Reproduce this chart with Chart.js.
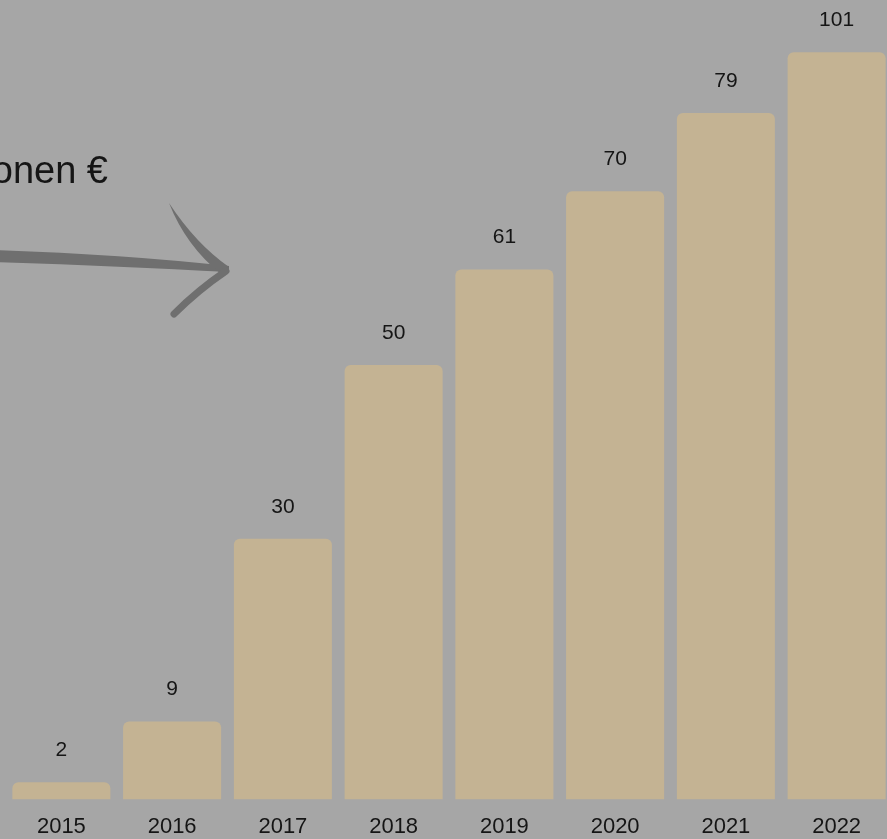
<!DOCTYPE html>
<html>
<head>
<meta charset="utf-8">
<script src="https://cdn.jsdelivr.net/npm/chart.js@4.4.0/dist/chart.umd.min.js"></script>
<style>
  html, body { margin: 0; padding: 0; background: #a6a6a6; overflow: hidden; }
  #wrap { position: absolute; left: 0; top: 0; width: 892px; height: 854px; }
</style>
</head>
<body>
<div id="wrap"><canvas id="chart"></canvas></div>
<script>
// Years along the bottom
const years = ['2015', '2016', '2017', '2018', '2019', '2020', '2021', '2022'];
// Numbers printed above the bars (Millionen €)
const valueLabels = ['2', '9', '30', '50', '61', '70', '79', '101'];
// Bar heights as drawn in the picture (last bar is drawn shorter than its label)
const barHeights = [2, 9, 30, 50, 61, 70, 79, 86];

const barColor = '#c4b393';
const textColor = '#151515';

// value labels above each bar
const valueLabelPlugin = {
  id: 'valueLabels',
  afterDatasetsDraw(chart) {
    const ctx = chart.ctx;
    const meta = chart.getDatasetMeta(0);
    ctx.save();
    ctx.fillStyle = textColor;
    ctx.font = '21px "Liberation Sans", Arial, sans-serif';
    ctx.textAlign = 'center';
    ctx.textBaseline = 'middle';
    meta.data.forEach((bar, i) => {
      ctx.fillText(valueLabels[i], bar.x, bar.y - 32);
    });
    ctx.restore();
  }
};

// cropped caption and hand drawn arrow on the left
const decorPlugin = {
  id: 'decor',
  afterDraw(chart) {
    const ctx = chart.ctx;
    ctx.save();
    ctx.fillStyle = textColor;
    ctx.font = '38px "Liberation Sans", Arial, sans-serif';
    ctx.textAlign = 'right';
    ctx.textBaseline = 'middle';
    ctx.fillText('Millionen €', 108, 173);

    ctx.strokeStyle = '#6f6f6f';
    ctx.fillStyle = '#6f6f6f';
    ctx.lineCap = 'round';
    ctx.lineJoin = 'round';
    // shaft, a bit thicker on the left
    ctx.beginPath();
    ctx.moveTo(-5, 250);
    ctx.quadraticCurveTo(120, 254, 229, 266);
    ctx.lineTo(229, 272);
    ctx.quadraticCurveTo(120, 266, -5, 262);
    ctx.closePath();
    ctx.fill();
    // upper arm
    ctx.beginPath();
    ctx.moveTo(169, 203);
    ctx.quadraticCurveTo(196, 244, 229, 267);
    ctx.lineTo(221, 274);
    ctx.quadraticCurveTo(186, 246, 169, 203);
    ctx.closePath();
    ctx.fill();
    // lower arm
    ctx.lineWidth = 7;
    ctx.beginPath();
    ctx.moveTo(226, 271);
    ctx.quadraticCurveTo(198, 290, 174, 314);
    ctx.stroke();
    ctx.restore();
  }
};

new Chart(document.getElementById('chart'), {
  type: 'bar',
  data: {
    labels: years,
    datasets: [{
      data: barHeights,
      backgroundColor: barColor,
      borderRadius: { topLeft: 6, topRight: 6, bottomLeft: 0, bottomRight: 0 },
      borderSkipped: 'bottom',
      categoryPercentage: 1,
      barPercentage: 0.885
    }]
  },
  options: {
    responsive: true,
    maintainAspectRatio: false,
    animation: false,
    layout: { padding: { left: 6, right: 0, top: 0, bottom: 0 } },
    plugins: {
      legend: { display: false },
      tooltip: { enabled: false }
    },
    scales: {
      x: {
        grid: { display: false, drawTicks: false },
        border: { display: false },
        ticks: {
          color: textColor,
          padding: 14,
          font: { family: '"Liberation Sans", Arial, sans-serif', size: 22 }
        }
      },
      y: {
        display: false,
        min: 0,
        max: 92
      }
    }
  },
  plugins: [valueLabelPlugin, decorPlugin]
});
</script>
</body>
</html>
